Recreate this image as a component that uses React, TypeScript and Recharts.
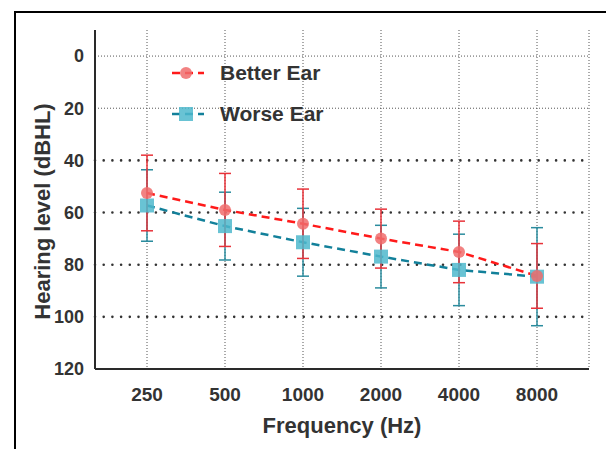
import React from "react";
import { LineChart, Line, XAxis, YAxis, CartesianGrid, ErrorBar, ReferenceLine, Legend, Label } from "recharts";

const FREQS = ["250", "500", "1000", "2000", "4000", "8000"];
const BETTER = [52.5, 59, 64.3, 70, 75.1, 84.3];
const BETTER_ERR = [14.5, 14, 13.3, 11.3, 11.8, 12.4];
const WORSE = [57.3, 65.2, 71.4, 76.9, 82, 84.6];
const WORSE_ERR = [13.7, 13, 13, 12, 13.7, 18.8];
const Y_TICKS = [0, 20, 40, 60, 80, 100, 120];
const GRID_FINE = [0, 20];
const GRID_BOLD = [40, 60, 80, 100];

const data = FREQS.map((f, i) => ({
  idx: i,
  better: BETTER[i],
  betterErr: BETTER_ERR[i],
  worse: WORSE[i],
  worseErr: WORSE_ERR[i],
}));

// category slots with 2/3 slot padding on each side
const X_MIN = -2 / 3;
const X_MAX = FREQS.length - 1 + 2 / 3;
const X_TICKS = FREQS.map((_, i) => i);

const W = 606;
const H = 449;
const MARGIN = { top: 30, right: 17, left: 35, bottom: 20 };

const FONT = "'Liberation Sans', Arial, sans-serif";
const TXT = "#333";
const FRAME = { stroke: "#2a2a2a", strokeWidth: 2 };

const RED_LINE = "#ff1a1a";
const RED_BAR = "#e8333a";
const RED_DOT = "#f06c6c";
const TEAL_LINE = "#12809a";
const TEAL_BAR = "#2b8c9e";
const TEAL_DOT = "#4fb9cd";

const CircleDot = (p: any) =>
  p.cx == null ? null : <circle cx={p.cx} cy={p.cy} r={6} fill={RED_DOT} fillOpacity={0.85} />;

const SquareDot = (p: any) =>
  p.cx == null ? null : (
    <rect x={p.cx - 7} y={p.cy - 7} width={14} height={14} fill={TEAL_DOT} fillOpacity={0.85} />
  );

const LEGEND_ITEMS = [
  { name: "Better Ear", line: RED_LINE, marker: "circle" },
  { name: "Worse Ear", line: TEAL_LINE, marker: "square" },
];

const renderLegend = () => (
  <div style={{ fontFamily: FONT }}>
    {LEGEND_ITEMS.map((it) => (
      <div key={it.name} style={{ display: "flex", alignItems: "center", height: 41 }}>
        <svg width={36} height={20} style={{ marginRight: 14 }}>
          <line x1={2} y1={10} x2={34} y2={10} stroke={it.line} strokeWidth={2.5} strokeDasharray="8 5" />
          {it.marker === "circle" ? (
            <circle cx={16} cy={10} r={6} fill={RED_DOT} fillOpacity={0.85} />
          ) : (
            <rect x={9} y={3} width={14} height={14} fill={TEAL_DOT} fillOpacity={0.85} />
          )}
        </svg>
        <span style={{ fontSize: 21, fontWeight: "bold", color: TXT }}>{it.name}</span>
      </div>
    ))}
  </div>
);

const YTitle = (props: any) => {
  const vb = props.viewBox;
  const x = vb.x + 7;
  const y = vb.y + vb.height / 2 + 12;
  return (
    <text x={x} y={y} transform={`rotate(-90 ${x} ${y})`} textAnchor="middle" dominantBaseline="central"
      fontFamily={FONT} fontSize={22} fontWeight="bold" fill={TXT}>
      Hearing level (dBHL)
    </text>
  );
};

const XTitle = (props: any) => {
  const vb = props.viewBox;
  return (
    <text x={vb.x + vb.width / 2} y={vb.y + 56} textAnchor="middle" dominantBaseline="central"
      fontFamily={FONT} fontSize={22} fontWeight="bold" fill={TXT}>
      Frequency (Hz)
    </text>
  );
};

export default function App() {
  return (
    <div style={{ position: "absolute", left: 0, top: 0, width: W, height: H, overflow: "hidden", background: "#fff" }}>
      <div style={{ position: "absolute", left: 14, top: 11, width: 700, height: 600, border: "2px solid #000" }} />
      <div style={{ position: "absolute", left: 0, top: 0 }}>
        <LineChart width={W} height={H} data={data} margin={MARGIN}>
          <CartesianGrid horizontal={false} stroke="#555" strokeDasharray="1 2" />
          {GRID_FINE.map((v) => (
            <ReferenceLine key={v} y={v} stroke="#555" strokeDasharray="1 2" />
          ))}
          {GRID_BOLD.map((v) => (
            <ReferenceLine key={v} y={v} stroke="#333" strokeWidth={2.6} strokeDasharray="0 8.7" strokeLinecap="round" />
          ))}
          <XAxis dataKey="idx" type="number" domain={[X_MIN, X_MAX]} ticks={X_TICKS} allowDataOverflow height={60}
            tickFormatter={(i: number) => FREQS[i]}
            axisLine={FRAME} tickLine={false} tickSize={0} tickMargin={19}
            tick={{ fontFamily: FONT, fontSize: 19, fontWeight: "bold", fill: TXT }}>
            <Label content={<XTitle />} />
          </XAxis>
          {/* top edge of frame */}
          <XAxis xAxisId="top" orientation="top" dataKey="idx" type="number" domain={[X_MIN, X_MAX]}
            allowDataOverflow height={0} tick={false} tickLine={false} axisLine={FRAME} />
          <YAxis type="number" domain={[-10, 120]} ticks={Y_TICKS} reversed allowDataOverflow width={60}
            axisLine={FRAME} tickLine={false} tickSize={0} tickMargin={11}
            tick={{ fontFamily: FONT, fontSize: 18, fontWeight: "bold", fill: TXT }}>
            <Label content={<YTitle />} />
          </YAxis>
          {/* right edge of frame */}
          <YAxis yAxisId="right" orientation="right" type="number" domain={[-10, 120]} reversed
            allowDataOverflow width={0} tick={false} tickLine={false} axisLine={FRAME} />
          <Line dataKey="worse" name="Worse Ear" stroke={TEAL_LINE} strokeWidth={2.5} strokeDasharray="8 5"
            dot={<SquareDot />} activeDot={false} isAnimationActive={false}>
            <ErrorBar dataKey="worseErr" direction="y" width={6} stroke={TEAL_BAR} strokeWidth={1.5} />
          </Line>
          <Line dataKey="better" name="Better Ear" stroke={RED_LINE} strokeWidth={2.5} strokeDasharray="8 5"
            dot={<CircleDot />} activeDot={false} isAnimationActive={false}>
            <ErrorBar dataKey="betterErr" direction="y" width={6} stroke={RED_BAR} strokeWidth={1.5} />
          </Line>
          <Legend verticalAlign="middle" align="center" layout="horizontal" content={renderLegend}
            wrapperStyle={{ top: 52, left: 170, width: "auto" }} />
        </LineChart>
      </div>
    </div>
  );
}
